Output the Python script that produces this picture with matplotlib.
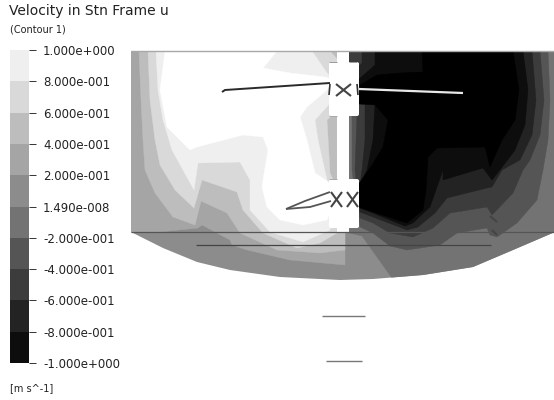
import numpy as np
import matplotlib
matplotlib.use("Agg")
import matplotlib.pyplot as plt
from matplotlib.patches import Polygon, FancyBboxPatch

# Legend
levels = [1.0, 0.8, 0.6, 0.4, 0.2, 0.0, -0.2, -0.4, -0.6, -0.8, -1.0]
level_labels = ["1.000e+000", "8.000e-001", "6.000e-001", "4.000e-001", "2.000e-001", "1.490e-008",
                "-2.000e-001", "-4.000e-001", "-6.000e-001", "-8.000e-001", "-1.000e+000"]
band_colors = ["#efefef", "#d9d9d9", "#bdbdbd", "#a5a5a5", "#8c8c8c",
               "#737373", "#555555", "#3c3c3c", "#232323", "#0d0d0d"]

# Vessel outline in image pixels
vessel = [(131, 51), (555, 51), (555, 232), (513, 250), (473, 267), (423, 275), (373, 279), (340, 280),
          (280, 277), (230, 270), (197, 262), (163, 248), (131, 232)]

# Contour regions (x, y in image pixels), outermost first
pos_02 = [(120, 40), (345, 40), (345, 265), (290, 260), (247, 250), (232, 245), (230, 240), (202, 225),
          (198, 228), (160, 232), (131, 233), (120, 233)]
pos_04 = [(139, 51), (141, 100), (143, 140), (145, 170), (155, 193), (173, 217), (195, 225), (201, 201),
          (227, 213), (240, 233), (277, 250), (320, 253), (345, 250), (345, 51)]
pos_06 = [(148, 51), (150, 100), (155, 140), (160, 165), (175, 190), (194, 208), (202, 180), (237, 192),
          (243, 210), (263, 233), (297, 248), (320, 243), (337, 233), (345, 230), (345, 190), (338, 190),
          (330, 173), (327, 120), (338, 110), (338, 60), (330, 51)]
pos_08 = [(156, 51), (158, 90), (163, 120), (172, 150), (194, 190), (198, 163), (240, 162), (250, 180),
          (250, 210), (270, 232), (303, 242), (330, 230), (333, 190), (327, 180), (318, 140), (315, 120),
          (333, 100), (335, 80), (327, 73), (312, 51)]
pos_10 = [(165, 51), (160, 90), (167, 127), (190, 150), (197, 147), (243, 135), (263, 137), (268, 150),
          (263, 180), (262, 187), (267, 207), (280, 220), (303, 225), (327, 220), (333, 205), (333, 185),
          (315, 173), (307, 140), (300, 117), (307, 107), (327, 90), (333, 80), (325, 77), (290, 73),
          (263, 68), (277, 51)]

neg_00 = [(345, 40), (560, 40), (560, 235), (480, 285), (397, 285), (377, 257), (362, 236), (345, 232)]
neg_02 = [(345, 51), (548, 51), (550, 100), (548, 140), (543, 170), (537, 200), (517, 223), (497, 237),
          (490, 235), (487, 228), (457, 233), (440, 245), (407, 250), (390, 246), (373, 233), (360, 227),
          (356, 200), (352, 170), (352, 116), (345, 110)]
neg_04 = [(345, 51), (540, 51), (544, 100), (540, 135), (530, 160), (523, 170), (513, 193), (492, 215),
          (487, 207), (450, 213), (433, 228), (413, 237), (390, 233), (373, 223), (360, 218), (358, 200),
          (355, 170), (357, 116), (345, 110)]
neg_06 = [(362, 51), (532, 51), (536, 100), (532, 135), (520, 160), (502, 170), (492, 187), (487, 188),
          (447, 198), (435, 213), (418, 227), (407, 230), (373, 217), (360, 212), (358, 200), (362, 170),
          (365, 140), (365, 103), (352, 100), (352, 73), (362, 63)]
neg_08 = [(375, 51), (523, 51), (528, 90), (525, 125), (515, 150), (500, 170), (492, 180), (483, 168),
          (443, 180), (443, 170), (437, 187), (430, 207), (413, 223), (405, 226), (373, 213), (360, 208),
          (358, 190), (367, 170), (373, 140), (375, 103), (358, 95), (358, 80), (375, 65)]
neg_10 = [(422, 51), (423, 72), (400, 73), (377, 75), (360, 85), (359, 104), (375, 105), (388, 120),
          (383, 147), (372, 165), (358, 185), (358, 207), (373, 212), (407, 223), (423, 210), (426, 190),
          (428, 157), (437, 148), (485, 147), (490, 167), (502, 140), (515, 120), (519, 90), (513, 51)]

regions = [(pos_02, "#a5a5a5"), (pos_04, "#bdbdbd"), (pos_06, "#d9d9d9"), (pos_08, "#efefef"), (pos_10, "#ffffff"),
           (neg_00, "#737373"), (neg_02, "#555555"), (neg_04, "#3c3c3c"), (neg_06, "#232323"),
           (neg_08, "#0d0d0d"), (neg_10, "#000000")]

# Blades and other mesh lines
blade_dark = [(222, 92), (225, 90), (330, 83)]
blade_light = [(359, 89), (463, 93)]
blade_low_a = [(286, 209), (305, 201), (330, 192)]
blade_low_b = [(286, 209), (310, 207), (331, 201)]
hub_cross = [((336, 84), (351, 96)), ((351, 84), (336, 96)), ((331, 192), (342, 207)), ((342, 192), (331, 207)),
             ((347, 192), (358, 207)), ((358, 192), (347, 207)), ((490, 216), (497, 222)), ((492, 230), (497, 235))]
line_low_1 = [(322, 316), (365, 316)]
line_low_2 = [(326, 361), (362, 361)]
line_dish = [(131, 232), (555, 232)]
line_ring = [(196, 245), (491, 245)]
line_top = [(131, 51), (555, 51)]


def draw_line(ax, pts, color, lw):
    xs, ys = zip(*pts)
    ax.plot(xs, ys, color=color, lw=lw, solid_capstyle="butt")


plt.rcParams["font.family"] = "DejaVu Sans"
fig = plt.figure(figsize=(5.54, 4), dpi=100)

# Main drawing in image pixels
ax = fig.add_axes([0, 0, 1, 1])
ax.set_xlim(0, 554)
ax.set_ylim(400, 0)
ax.axis("off")

base = Polygon(vessel, closed=True, facecolor="#8c8c8c", edgecolor="none")
ax.add_patch(base)
for pts, col in regions:
    p = Polygon(pts, closed=True, facecolor=col, edgecolor=col, lw=0.3, joinstyle="round")
    ax.add_patch(p)
    p.set_clip_path(base)

# Shaft and hubs
ax.fill_between([337, 349], 51, 233, color="white", lw=0)
for y0, y1 in [(62, 116), (179, 228)]:
    ax.add_patch(FancyBboxPatch((331, y0 + 2), 26, y1 - y0 - 4, boxstyle="round,pad=2", facecolor="white", edgecolor="none"))
draw_line(ax, [(329, 62), (337, 62)], "#999999", 0.7)
draw_line(ax, [(349, 62), (357, 62)], "#999999", 0.7)
draw_line(ax, [(329, 116), (337, 116)], "#aaaaaa", 0.7)
draw_line(ax, [(329, 179), (337, 179)], "#aaaaaa", 0.7)

draw_line(ax, line_top, "#a8a8a8", 1.0)
draw_line(ax, line_dish, "#555555", 0.9)
draw_line(ax, line_ring, "#444444", 0.9)
draw_line(ax, blade_dark, "#2a2a2a", 1.4)
draw_line(ax, blade_light, "#e8e8e8", 1.6)
draw_line(ax, blade_low_a, "#555555", 1.3)
draw_line(ax, blade_low_b, "#555555", 1.3)
for seg in hub_cross:
    draw_line(ax, seg, "#444444", 1.5)
draw_line(ax, [(330, 84), (329, 95)], "#333333", 1.2)
draw_line(ax, [(357, 84), (358, 95)], "#333333", 1.2)
draw_line(ax, line_low_1, "#777777", 1.0)
draw_line(ax, line_low_2, "#777777", 1.0)

ax.text(9, 11, "Velocity in Stn Frame u", fontsize=10, color="#222222", va="center", ha="left")
ax.text(10, 29, "(Contour 1)", fontsize=7, color="#222222", va="center", ha="left")
ax.text(10, 388, "[m s^-1]", fontsize=7, color="#222222", va="center", ha="left")

# Legend bar, drawn on its own value axis
leg = fig.add_axes([10 / 554, 1 - 363 / 400, 19 / 554, 313 / 400])
leg.set_ylim(-1, 1)
leg.set_xlim(0, 1)
leg.barh(levels[1:], [1] * 10, height=[a - b for a, b in zip(levels[:-1], levels[1:])],
         align="edge", color=band_colors, lw=0)
leg.set_xticks([])
leg.yaxis.tick_right()
leg.set_yticks(levels)
leg.set_yticklabels(level_labels, fontsize=8.5, color="#222222", ha="left")
leg.tick_params(axis="y", length=5, width=0.7, pad=5, color="#333333")
for s in leg.spines.values():
    s.set_visible(False)

fig.savefig("out.png", dpi=100)
